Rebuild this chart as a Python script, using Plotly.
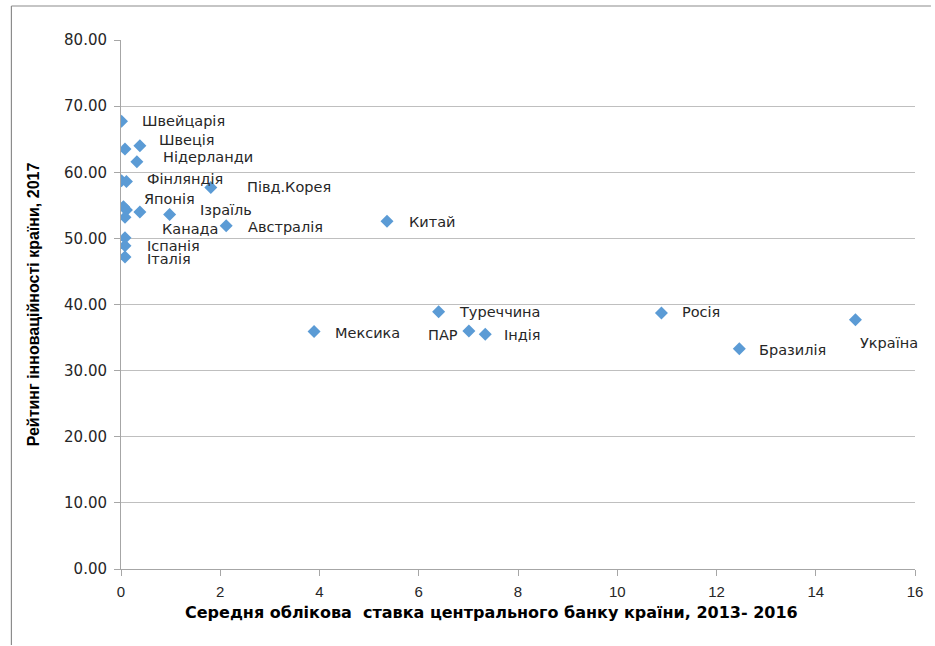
import plotly.graph_objects as go

# ---- data ----
countries = ["Швейцарія", "", "Швеція", "Нідерланди", "", "Фінляндія", "Півд.Корея",
             "", "Японія", "", "Канада", "Ізраїль", "Австралія", "Китай", "",
             "Іспанія", "Італія", "Туреччина", "Мексика", "ПАР", "Індія",
             "Росія", "Бразилія", "Україна"]
rate = [0.01, 0.08, 0.38, 0.32, 0.01, 0.11, 1.81,
        0.05, 0.11, 0.08, 0.38, 0.98, 2.12, 5.36, 0.08,
        0.08, 0.08, 6.40, 3.89, 7.01, 7.34,
        10.89, 12.46, 14.80]
rating = [67.7, 63.5, 64.0, 61.6, 58.7, 58.6, 57.7,
          54.8, 54.3, 53.2, 54.0, 53.6, 51.9, 52.6, 50.1,
          48.9, 47.2, 38.9, 35.9, 36.0, 35.5,
          38.7, 33.3, 37.7]
x_ticks = [0, 2, 4, 6, 8, 10, 12, 14, 16]
y_ticks = [0, 10, 20, 30, 40, 50, 60, 70, 80]
x_title = "Середня облікова  ставка центрального банку країни, 2013- 2016"
y_title = "Рейтинг інноваційності країни, 2017"

# label placement (pixel offsets: dx, dy-down, anchor)
label_style = {
    "Швейцарія": (18, 0, "left"), "Швеція": (17, -6, "left"),
    "Нідерланди": (24, -5, "left"), "Фінляндія": (19, -3, "left"),
    "Півд.Корея": (34, 0, "left"), "Японія": (16, -11, "left"),
    "Ізраїль": (28, -5, "left"), "Канада": (20, 17, "left"),
    "Австралія": (20, 1, "left"), "Китай": (20, 1, "left"),
    "Іспанія": (20, 0, "left"), "Італія": (20, 2, "left"),
    "Туреччина": (18, 0, "left"), "Мексика": (19, 1, "left"),
    "ПАР": (-9, 4, "right"), "Індія": (17, 1, "left"),
    "Росія": (19, -1, "left"), "Бразилія": (18, 1, "left"),
    "Україна": (3, 23, "left"),
}

# plot-area geometry in pixels (for paper-coordinate conversions)
L, R, T, B = 121, 918, 40, 569
PW, PH = R - L, B - T


def px_x(p):
    return (p - L) / PW


def px_y(p):
    return (B - p) / PH


fig = go.Figure()
fig.add_trace(go.Scatter(
    x=rate, y=rating, mode="markers",
    marker=dict(symbol="diamond", size=10, color="#5B9BD5", line=dict(width=0)),
    hovertext=countries, showlegend=False, hoverinfo="skip",
))

annotations = []
for name, xv, yv in zip(countries, rate, rating):
    if not name:
        continue
    dx, dy, anchor = label_style[name]
    annotations.append(dict(
        x=xv, y=yv, xref="x", yref="y", text=name, showarrow=False,
        xanchor=anchor, yanchor="middle", xshift=dx, yshift=-dy,
        font=dict(family="DejaVu Sans", size=14.5, color="#262626"),
    ))

# x-axis title (offset left of centre as in the reference)
annotations.append(dict(
    x=px_x(493), y=px_y(612), xref="paper", yref="paper", text=x_title,
    showarrow=False, xanchor="center", yanchor="middle",
    font=dict(family="DejaVu Sans", size=16, color="#000000", weight="bold"),
))

fig.update_layout(
    width=935, height=646,
    margin=dict(l=L, r=935 - R, t=T, b=646 - B),
    paper_bgcolor="white", plot_bgcolor="white",
    annotations=annotations,
    hovermode=False,
    xaxis=dict(
        range=[0, 16], tickvals=x_ticks, ticktext=[str(v) for v in x_ticks],
        showgrid=False, zeroline=False, showline=True, linecolor="#A6A6A6", linewidth=1,
        ticks="outside", ticklen=6, tickcolor="#A6A6A6", ticklabelstandoff=3,
        tickfont=dict(family="Liberation Sans", size=15, color="#262626"),
    ),
    yaxis=dict(
        range=[0, 80], tickvals=y_ticks, ticktext=[f"{v:.2f}" for v in y_ticks],
        showgrid=True, gridcolor="#BFBFBF", gridwidth=1, zeroline=False,
        showline=True, linecolor="#A6A6A6", linewidth=1,
        ticks="outside", ticklen=6, tickcolor="#A6A6A6",
        ticklabelstandoff=4,
        tickfont=dict(family="DejaVu Sans", size=15, color="#262626"),
        title=dict(text=y_title, standoff=20,
                   font=dict(family="Liberation Sans Narrow, Liberation Sans", size=16,
                             color="#000000", weight="bold")),
    ),
    shapes=[
        dict(type="line", xref="paper", yref="paper",
             x0=px_x(11), x1=px_x(11), y0=px_y(645), y1=px_y(6),
             line=dict(color="#8C8C8C", width=1.2), layer="above"),
        dict(type="line", xref="paper", yref="paper",
             x0=px_x(11), x1=px_x(934), y0=px_y(6), y1=px_y(6),
             line=dict(color="#8C8C8C", width=1.2), layer="above"),
    ],
)

fig.write_html("out.html", config={"displayModeBar": False},
               post_script=["document.body.style.margin='0';"])
